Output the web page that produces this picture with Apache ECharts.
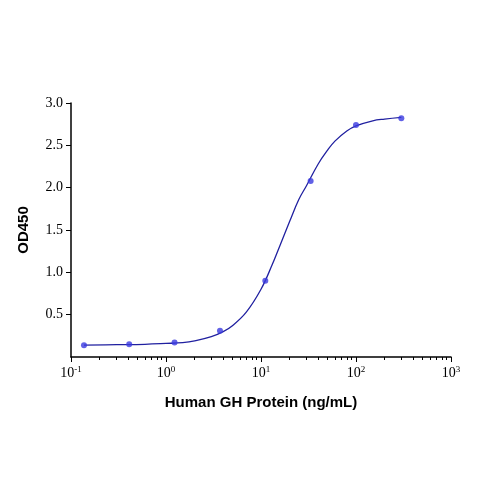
<!DOCTYPE html><html><head><meta charset="utf-8"><script src="https://cdn.jsdelivr.net/npm/echarts@6/dist/echarts.min.js"></script></head><body style="margin:0"><div id="c" style="width:500px;height:500px"></div><script>
var concentrations=[0.137,0.41,1.23,3.7,11.1,33.3,100,300];
var od450=[0.14,0.15,0.17,0.31,0.90,2.08,2.74,2.82];
var curveX=[0.137,0.3,0.6,1,1.5,2,3,4,5,7,10,13,16,20,25,30,40,50,60,80,100,150,200,300];
var curveY=[0.14,0.145,0.15,0.16,0.17,0.19,0.24,0.3,0.37,0.53,0.8,1.08,1.33,1.6,1.86,2.02,2.28,2.44,2.55,2.67,2.73,2.79,2.81,2.83];
var yTicks=[0.5,1.0,1.5,2.0,2.5,3.0];
var xTicks=[0.1,1,10,100,1000];
var minor=[];[0.1,1,10,100].forEach(function(d){for(var k=2;k<10;k++)minor.push(d*k);});
var sup={'-1':'-1','0':'0','1':'1','2':'2','3':'3'};
var ch=echarts.init(document.getElementById('c'));
ch.setOption({
grid:{left:71,right:49,top:103,bottom:143},
xAxis:[{type:'log',logBase:10,min:0.1,max:1000,
 name:'Human GH Protein (ng/mL)',nameLocation:'middle',nameGap:38,
 nameTextStyle:{fontFamily:'Liberation Sans',fontWeight:'bold',fontSize:15,color:'#000'},
 axisLine:{lineStyle:{color:'#000',width:1.5}},splitLine:{show:false},
 axisTick:{customValues:xTicks,length:5,lineStyle:{color:'#000'}},
 axisLabel:{customValues:xTicks,color:'#000',fontFamily:'Liberation Serif',fontSize:14,
  formatter:function(v){var e=Math.round(Math.log10(v));return '10{s|'+e+'}';},
  rich:{s:{fontSize:9,verticalAlign:'top',padding:[0,0,8,0],fontFamily:'Liberation Serif',color:'#000'}}}},
 {type:'log',logBase:10,min:0.1,max:1000,position:'bottom',axisLine:{show:false},splitLine:{show:false},
 axisTick:{customValues:minor,length:3,lineStyle:{color:'#000'}},axisLabel:{show:false}}],
yAxis:{type:'value',min:0,max:3,name:'OD450',nameLocation:'middle',nameGap:40,
 nameTextStyle:{fontFamily:'Liberation Sans',fontWeight:'bold',fontSize:15,color:'#000'},
 axisLine:{show:true,lineStyle:{color:'#000',width:1.5}},splitLine:{show:false},
 axisTick:{show:true,customValues:yTicks,length:5,lineStyle:{color:'#000'}},
 axisLabel:{customValues:yTicks,color:'#000',fontFamily:'Liberation Serif',fontSize:14,formatter:function(v){return v.toFixed(1);}}},
series:[
 {type:'line',data:curveX.map(function(x,i){return [x,curveY[i]];}),smooth:0.4,showSymbol:false,lineStyle:{color:'#2020a0',width:1.3},z:2},
 {type:'scatter',data:concentrations.map(function(x,i){return [x,od450[i]];}),symbolSize:6,itemStyle:{color:'#3a3ae0'},z:3}
]});
</script></body></html>
